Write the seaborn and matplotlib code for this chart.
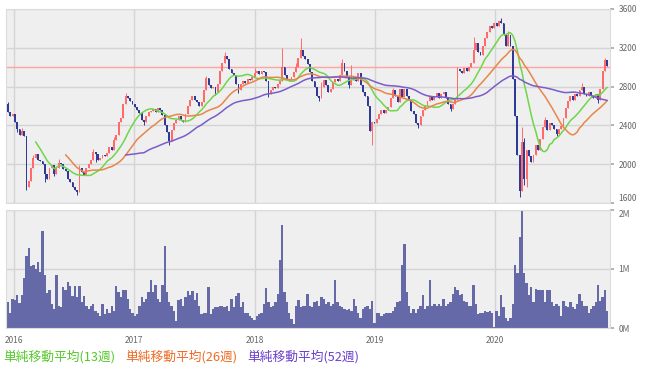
import numpy as np
import pandas as pd
import matplotlib
matplotlib.use('Agg')
import matplotlib.pyplot as plt
import seaborn as sns

# weekly candles, first week starting 2015-12-14
start_date = '2015-12-14'
first_open = 2620

close = [
    2540, 2500, 2520, 2430, 2360, 2300, 2340, 2290, 1760, 1830,
    1960, 2060, 2110, 2040, 2030, 2000, 1900, 1850, 1960, 1990,
    1900, 1960, 2010, 2000, 1950, 1930, 1850, 1820, 1770, 1730,
    1710, 1960, 1920, 1890, 1960, 2000, 2040, 2130, 2110, 2040,
    2060, 2090, 2080, 2120, 2180, 2150, 2250, 2300, 2440, 2480,
    2620, 2700, 2680, 2650, 2620, 2590, 2560, 2530, 2460, 2430,
    2500, 2540, 2550, 2570, 2540, 2580, 2560, 2510, 2400, 2330,
    2240, 2350, 2420, 2460, 2500, 2460, 2440, 2520, 2600, 2660,
    2700, 2660, 2640, 2600, 2640, 2760, 2890, 2820, 2790, 2800,
    2740, 2830, 2960, 3040, 3120, 3080, 2980, 2940, 2920, 2830,
    2760, 2830, 2860, 2840, 2880, 2870, 2900, 2940, 2960, 2930,
    2960, 2950, 2860, 2720, 2760, 2800, 2790, 2830, 2860, 3000,
    2920, 2880, 2860, 2900, 2950, 3000, 3100, 3180, 3120, 3080,
    3030, 2950, 2860, 2800, 2700, 2680, 2800, 2870, 2820, 2740,
    2780, 2850, 2880, 2860, 2920, 3040, 2960, 2900, 2820, 2870,
    2900, 2860, 2940, 2820, 2740, 2700, 2600, 2340, 2440, 2420,
    2470, 2520, 2560, 2530, 2560, 2590, 2680, 2760, 2700, 2640,
    2780, 2690, 2780, 2700, 2660, 2550, 2520, 2420, 2400, 2500,
    2560, 2600, 2650, 2700, 2660, 2700, 2730, 2680, 2720, 2740,
    2680, 2620, 2570, 2620, 2660, 2980, 2960, 2940, 2990, 2960,
    3000, 3040, 3180, 3250, 3160, 3130, 3220, 3300, 3360, 3420,
    3400, 3460, 3420, 3480, 3460, 3330, 3220, 3330, 3220, 2880,
    2500, 2090, 1720, 2230, 1850, 2150, 2080, 2020, 2100, 2200,
    2150, 2260, 2380, 2460, 2350, 2420, 2400, 2360, 2310, 2360,
    2390, 2480, 2580, 2650, 2700, 2660, 2720, 2700, 2760, 2800,
    2720, 2700, 2740, 2700, 2680, 2720, 2660, 2780, 2960, 3070,
    3010,
]

# weekly volume, thousands of shares
volume = [
    440, 260, 500, 480, 560, 420, 560, 850, 1220, 1360,
    1050, 1070, 1000, 1120, 950, 1650, 900, 600, 640, 400,
    330, 890, 380, 350, 700, 640, 780, 720, 550, 720,
    520, 720, 440, 550, 380, 320, 380, 410, 290, 260,
    200, 410, 230, 320, 260, 380, 290, 720, 610, 520,
    640, 640, 490, 320, 260, 200, 230, 380, 520, 440,
    500, 610, 810, 610, 730, 500, 440, 730, 1390, 610,
    440, 380, 290, 120, 470, 490, 380, 520, 620, 560,
    620, 470, 600, 380, 230, 260, 260, 700, 230, 320,
    350, 350, 380, 370, 350, 380, 290, 490, 350, 550,
    600, 350, 440, 260, 250, 200, 170, 140, 200, 230,
    260, 410, 670, 440, 350, 380, 440, 580, 1160, 1740,
    610, 440, 260, 150, 60, 380, 470, 350, 380, 380,
    581, 378, 349, 436, 465, 378, 523, 494, 407, 436,
    378, 407, 813, 436, 378, 349, 320, 308, 320, 290,
    494, 378, 262, 174, 320, 349, 378, 320, 465, 87,
    262, 250, 203, 232, 262, 250, 262, 290, 349, 436,
    465, 1075, 1423, 610, 378, 262, 320, 262, 320, 378,
    552, 320, 378, 813, 378, 407, 378, 407, 378, 494,
    378, 407, 436, 581, 697, 639, 552, 581, 465, 436,
    378, 378, 726, 407, 232, 262, 262, 290, 273, 290,
    262, 17, 290, 203, 552, 349, 174, 116, 174, 407,
    1075, 930, 1540, 1975, 930, 755, 552, 697, 436, 668,
    639, 639, 639, 436, 639, 639, 436, 378, 407, 378,
    203, 465, 378, 349, 436, 349, 320, 407, 581, 465,
    378, 378, 262, 320, 378, 436, 726, 465, 523, 639,
    290,
]

# visible wicks beyond the candle body (week index -> price)
wick_high = {0: 2640, 6: 2370, 11: 2090, 22: 2050, 31: 1990, 37: 2160, 46: 2280,
             51: 2730, 86: 2910, 94: 3160, 107: 2990, 119: 3200, 125: 3040,
             127: 3300, 136: 2850, 145: 3080, 149: 3020, 167: 2790, 195: 3000,
             202: 3310, 214: 3510, 217: 3370, 223: 2380, 224: 2270, 233: 2490,
             249: 2840, 259: 3090}
wick_low = {4: 2330, 8: 1730, 16: 1820, 20: 1880, 30: 1680, 38: 2020, 59: 2400,
            70: 2200, 90: 2715, 100: 2730, 113: 2690, 135: 2650, 148: 2790,
            158: 2200, 178: 2370, 192: 2550, 222: 1660, 224: 1790, 225: 1760,
            238: 2290, 256: 2630}

price_ticks = [1600, 2000, 2400, 2800, 3200, 3600]
vol_ticks = [0, 1000, 2000]
vol_labels = ['0M', '1M', '2M']
years = [2016, 2017, 2018, 2019, 2020]
ma_labels = ['単純移動平均(13週)', '単純移動平均(26週)', '単純移動平均(52週)']

sns.set_theme(style='white')
plt.rcParams['font.family'] = ['Noto Sans CJK JP', 'DejaVu Sans']

dates = pd.date_range(start_date, periods=len(close), freq='7D')
df = pd.DataFrame({'date': dates, 'close': close, 'volume': volume})
df['x'] = np.arange(len(df))
df['open'] = df['close'].shift(1).fillna(first_open)
df['high'] = df[['open', 'close']].max(axis=1)
df['low'] = df[['open', 'close']].min(axis=1)
for k, v in wick_high.items():
    df.loc[k, 'high'] = max(v, df.loc[k, 'high'])
for k, v in wick_low.items():
    df.loc[k, 'low'] = min(v, df.loc[k, 'low'])
for n in (13, 26, 52):
    df[f'sma{n}'] = df['close'].rolling(n).mean()

UP, DOWN = '#ff6b6b', '#2e3a96'
GREEN, ORANGE, PURPLE = '#6fd64a', '#e8864a', '#7b5cc9'
BG, GRID = '#efefef', '#d4d4d4'
TICK = dict(labelsize=6, labelcolor='#666666')

fig = plt.figure(figsize=(6.49, 3.77), dpi=100)
W, H = 649, 377
ax = fig.add_axes([6 / W, 1 - 203 / H, 604 / W, 194 / H])
axv = fig.add_axes([6 / W, 1 - 328 / H, 604 / W, 118 / H])

year_pos = [(pd.Timestamp(f'{y}-01-01') - dates[0]).days / 7 for y in years]
xlim = (-0.87, 261.2)

for a in (ax, axv):
    a.set_facecolor(BG)
    for s in a.spines.values():
        s.set_color('#dcdcdc')
        s.set_linewidth(0.8)
    for xp in year_pos:
        a.axvline(xp, color=GRID, lw=1, zorder=0)

# price panel
for t in price_ticks:
    ax.axhline(t, color=GRID, lw=1, zorder=0)
ax.axhline(3000, color='#ffa3a3', lw=1, zorder=1)

up = df['close'] >= df['open']
cols = np.where(up, UP, DOWN)
ax.vlines(df['x'], df['low'], df['high'], colors=cols, lw=0.7, zorder=2)
body = (df['close'] - df['open']).abs().clip(lower=10)
ax.bar(df['x'], body, bottom=df[['open', 'close']].min(axis=1), width=0.8,
       color=cols, linewidth=0, zorder=3)

for n, c in ((13, GREEN), (26, ORANGE), (52, PURPLE)):
    d = df.dropna(subset=[f'sma{n}'])
    sns.lineplot(data=d, x='x', y=f'sma{n}', ax=ax, color=c, lw=1.1, zorder=4)

ax.set_ylim(1600, 3600)
ax.set_xlim(*xlim)
ax.set_yticks(price_ticks)
ax.yaxis.tick_right()
ax.set_xticks(year_pos)
ax.set_xticklabels([])
ax.tick_params(axis='x', length=0)
ax.tick_params(axis='y', length=3, color='#aaaaaa', pad=3, **TICK)
ax.set_xlabel('')
ax.set_ylabel('')

# volume panel
for t in vol_ticks:
    axv.axhline(t, color=GRID, lw=1, zorder=0)
sns.barplot(data=df, x='x', y='volume', native_scale=True, width=1.0,
            color='#6669a8', saturation=1, errorbar=None, linewidth=0,
            ax=axv, zorder=2)
axv.set_ylim(0, 2000)
axv.set_xlim(*xlim)
axv.set_yticks(vol_ticks)
axv.set_yticklabels(vol_labels)
axv.yaxis.tick_right()
axv.set_xticks(year_pos)
axv.set_xticklabels([str(y) for y in years])
axv.tick_params(axis='x', length=0, pad=6, **TICK)
axv.tick_params(axis='y', length=3, color='#aaaaaa', pad=3, **TICK)
axv.set_xlabel('')
axv.set_ylabel('')

# keep "1600" and "2M" apart where the panels meet
ax.get_yticklabels()[0].set_verticalalignment('bottom')
axv.get_yticklabels()[-1].set_verticalalignment('top')

# moving average legend text
for lab, c, xp in zip(ma_labels, ('#55c82a', '#ee6a22', '#6a3fcc'), (3, 125, 247)):
    fig.text(xp / W, 1 - 357 / H, lab, color=c, fontsize=9.2, va='center', ha='left')

fig.savefig('out.png', dpi=100)
